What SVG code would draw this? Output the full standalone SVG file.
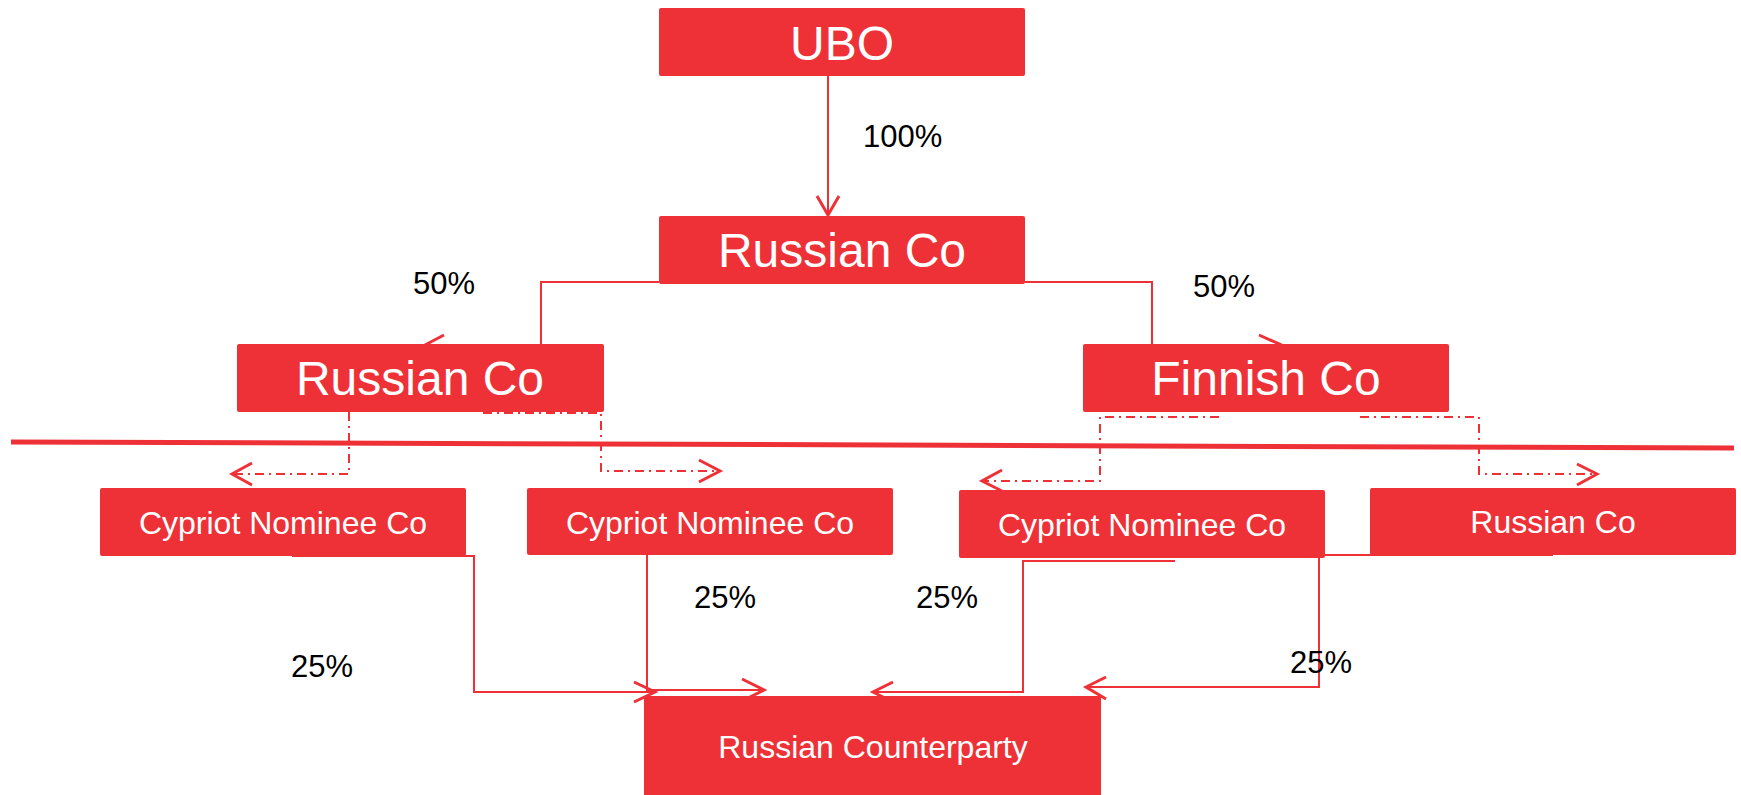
<svg xmlns="http://www.w3.org/2000/svg" width="1741" height="795" viewBox="0 0 1741 795">
<style>
.box{fill:#EE3137;}
.t{fill:#fff;font-family:"Liberation Sans",Arial,sans-serif;text-anchor:middle;}
.big{font-size:48px;}
.sm{font-size:32px;}
.lbl{fill:#000;font-family:"Liberation Sans",Arial,sans-serif;font-size:31px;}
.ln{fill:none;stroke:#EE3137;stroke-width:2;}
.dd{fill:none;stroke:#EE3137;stroke-width:2;stroke-dasharray:9 5 2 5;}
.hd{fill:none;stroke:#EE3137;stroke-width:3;}
</style>
<rect width="1741" height="795" fill="#fff"/>
<g id="ubo"><rect class="box" x="659" y="8" width="366" height="68" rx="2"/><text class="t big" x="842" y="60">UBO</text></g>
<g id="russian-co-top"><rect class="box" x="659" y="216" width="366" height="68" rx="2"/><text class="t big" x="842" y="267">Russian Co</text></g>
<g id="russian-co-left"><rect class="box" x="237" y="344" width="367" height="68" rx="2"/><text class="t big" x="420" y="395">Russian Co</text></g>
<g id="finnish-co"><rect class="box" x="1083" y="344" width="366" height="68" rx="2"/><text class="t big" x="1266" y="395">Finnish Co</text></g>
<g id="cypriot-1"><rect class="box" x="100" y="488" width="366" height="68" rx="2"/><text class="t sm" x="283" y="534">Cypriot Nominee Co</text></g>
<g id="cypriot-2"><rect class="box" x="527" y="488" width="366" height="67" rx="2"/><text class="t sm" x="710" y="534">Cypriot Nominee Co</text></g>
<g id="cypriot-3"><rect class="box" x="959" y="490" width="366" height="68" rx="2"/><text class="t sm" x="1142" y="536">Cypriot Nominee Co</text></g>
<g id="russian-co-br"><rect class="box" x="1370" y="488" width="366" height="67" rx="2"/><text class="t sm" x="1553" y="533">Russian Co</text></g>
<g id="russian-counterparty"><rect class="box" x="644" y="696" width="457" height="110"/><text class="t sm" x="873" y="758">Russian Counterparty</text></g>
<g id="connectors">
<line x1="11" y1="442" x2="1734" y2="448" stroke="#EE3137" stroke-width="5"/>
<polyline class="ln" points="828,76 828,214"/><polyline class="hd" points="817,196 828,215 839,196"/>
<polyline class="ln" points="659,282 541,282 541,344"/><polyline class="hd" points="444,335 425,345 444,356"/>
<polyline class="ln" points="1025,282 1152,282 1152,344"/><polyline class="hd" points="1259,335 1279,344 1259,355"/>
<polyline class="dd" points="349,412 349,474 234,474"/><polyline class="hd" points="252,463 232,474 252,485"/>
<polyline class="dd" points="483,413 601,413 601,471 718,471"/><polyline class="hd" points="699,460 720,471 699,482"/>
<polyline class="dd" points="1219,417 1100,417 1100,481 984,481"/><polyline class="hd" points="1002,470 982,481 1002,491"/>
<polyline class="dd" points="1360,417 1479,417 1479,474 1595,474"/><polyline class="hd" points="1577,464 1597,474 1577,485"/>
<polyline class="ln" points="292,556 474,556 474,692 652,692"/><polyline class="hd" points="634,682 655,692 634,702"/>
<polyline class="ln" points="647,555 647,690 762,690"/><polyline class="hd" points="742,679 764,690 742,701"/>
<polyline class="ln" points="1175,561 1023,561 1023,692 876,692"/><polyline class="hd" points="893,682 873,692 893,702"/>
<polyline class="ln" points="1553,555 1319,555 1319,687 1089,687"/><polyline class="hd" points="1106,677 1086,687 1106,699"/>
</g>
<g id="labels">
<text class="lbl" x="863" y="147">100%</text>
<text class="lbl" x="413" y="294">50%</text>
<text class="lbl" x="1193" y="297">50%</text>
<text class="lbl" x="291" y="677">25%</text>
<text class="lbl" x="694" y="608">25%</text>
<text class="lbl" x="916" y="608">25%</text>
<text class="lbl" x="1290" y="673">25%</text>
</g>
</svg>
